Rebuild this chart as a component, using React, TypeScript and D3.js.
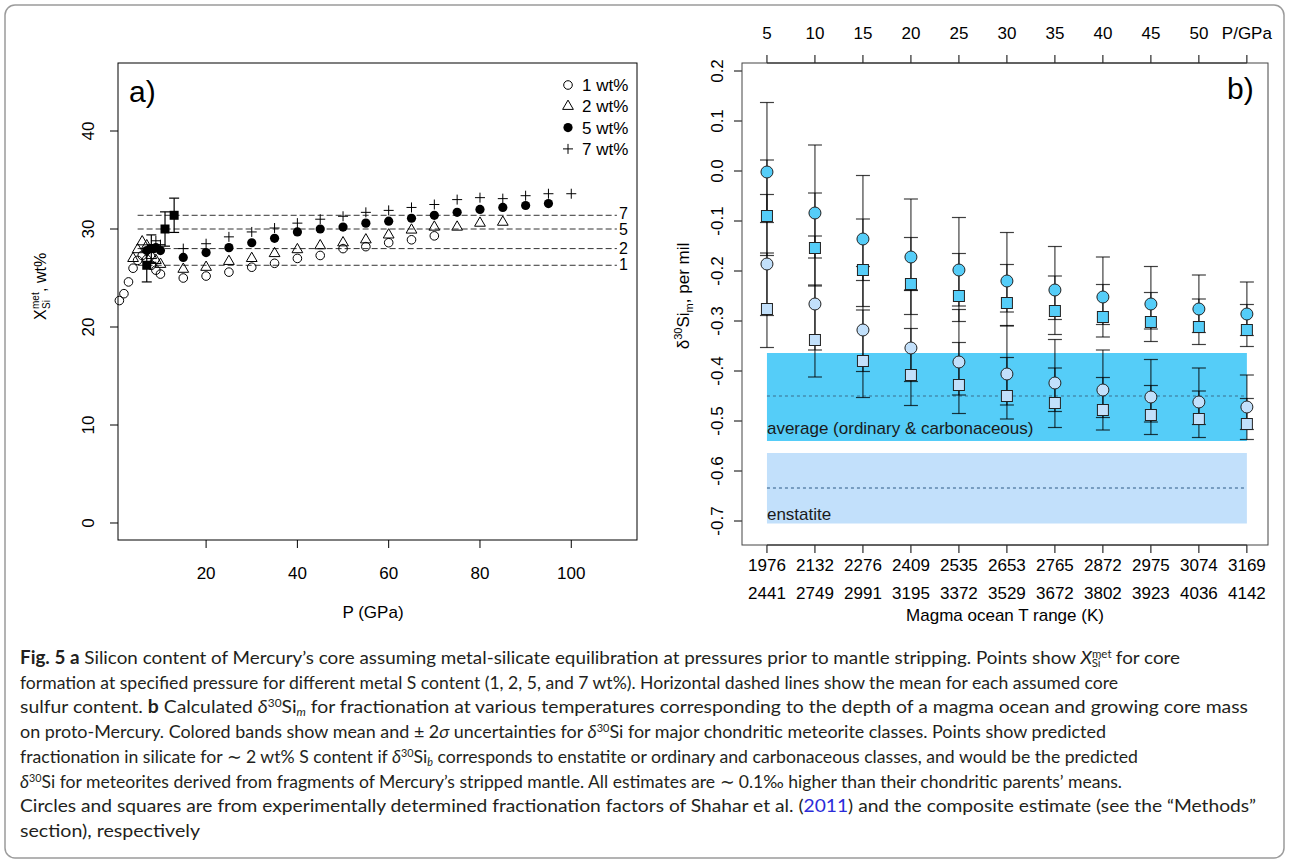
import * as d3 from 'd3';

const FONT = '"Liberation Sans", Arial, Helvetica, sans-serif';
const CAPFONT = 'Lato, "Open Sans", "Noto Sans", sans-serif';

// ---- panel a: X_Si^met (wt%) against pressure (GPa) for each metal S content
const p1wt = [1, 2, 3, 4, 5, 6, 7, 8, 9, 10, 15, 20, 25, 30, 35, 40, 45, 50, 55, 60, 65, 70];
const x1wt = [22.7, 23.4, 24.6, 26.0, 26.8, 27.3, 26.9, 26.3, 25.8, 25.4, 25.0, 25.2, 25.6, 26.1, 26.5, 27.0, 27.3, 28.0, 28.2, 28.6, 28.9, 29.3];
const p2wt = [4, 5, 6, 7, 8, 9, 10, 15, 20, 25, 30, 35, 40, 45, 50, 55, 60, 65, 70, 75, 80, 85];
const x2wt = [27.0, 27.9, 28.7, 28.3, 27.3, 26.8, 26.4, 25.9, 26.1, 26.7, 27.0, 27.5, 27.9, 28.3, 28.6, 28.9, 29.4, 29.9, 30.2, 30.2, 30.6, 30.7];
const p5wt = [7, 8, 9, 10, 15, 20, 25, 30, 35, 40, 45, 50, 55, 60, 65, 70, 75, 80, 85, 90, 95];
const x5wt = [27.8, 28.0, 28.1, 27.8, 27.1, 27.6, 28.1, 28.6, 29.05, 29.7, 30.0, 30.2, 30.6, 30.8, 31.1, 31.4, 31.7, 32.0, 32.2, 32.4, 32.6];
const p7wt = [9, 10, 15, 20, 25, 30, 35, 40, 45, 50, 55, 60, 65, 70, 75, 80, 85, 90, 95, 100];
const x7wt = [28.8, 28.4, 28.0, 28.5, 29.2, 29.7, 30.1, 30.6, 31.0, 31.3, 31.7, 31.9, 32.2, 32.5, 33.0, 33.2, 33.1, 33.4, 33.6, 33.6];

// means (dashed lines) and the mean points with their spread
const meanLabels = ['1', '2', '5', '7'];
const meanX = [26.3, 28.0, 30.0, 31.4];
const meanP = [7, 8, 11, 13];
const meanErr = [1.7, 1.4, 1.75, 1.75];
const meanLineFrom = 5;
const meanLineTo = 110;

const aXTicks = [20, 40, 60, 80, 100];
const aYTicks = [0, 10, 20, 30, 40];
const legendLabels = ['1 wt%', '2 wt%', '5 wt%', '7 wt%'];

// ---- panel b: d30Si of the silicate per temperature step
const pressTop = ['5', '10', '15', '20', '25', '30', '35', '40', '45', '50', 'P/GPa'];
const tLow = ['1976', '2132', '2276', '2409', '2535', '2653', '2765', '2872', '2975', '3074', '3169'];
const tHigh = ['2441', '2749', '2991', '3195', '3372', '3529', '3672', '3802', '3923', '4036', '4142'];
const bYTicks = [0.2, 0.1, 0, -0.1, -0.2, -0.3, -0.4, -0.5, -0.6, -0.7];

const circAvg = [-0.002, -0.084, -0.136, -0.172, -0.198, -0.22, -0.238, -0.252, -0.266, -0.276, -0.286];
const sqAvg = [-0.09, -0.154, -0.198, -0.226, -0.25, -0.264, -0.28, -0.292, -0.302, -0.312, -0.318];
const circEns = [-0.186, -0.266, -0.318, -0.354, -0.382, -0.406, -0.424, -0.438, -0.452, -0.462, -0.472];
const sqEns = [-0.276, -0.338, -0.38, -0.408, -0.428, -0.45, -0.464, -0.478, -0.488, -0.496, -0.506];
const circUp = [0.139, 0.136, 0.127, 0.116, 0.105, 0.097, 0.087, 0.08, 0.075, 0.068, 0.064];
const circDown = [0.167, 0.146, 0.135, 0.115, 0.103, 0.09, 0.089, 0.08, 0.075, 0.071, 0.065];
const sqUp = [0.112, 0.11, 0.102, 0.093, 0.085, 0.077, 0.07, 0.065, 0.059, 0.056, 0.051];
const sqDown = [0.013, 0.02, 0.021, 0.013, 0.02, 0.018, 0.017, 0.015, 0.014, 0.011, 0.011];

const avgBand = [-0.54, -0.364];
const avgMean = -0.45;
const ensBand = [-0.705, -0.564];
const ensMean = -0.634;

const CYAN = '#55cdf8';
const LIGHT = '#c2e0fb';

type Seg = { t: string; b?: boolean; i?: boolean; sup?: boolean; sub?: boolean; c?: string; dx?: number };

const caption: Seg[][] = [
  [
    { t: 'Fig. 5 a', b: true },
    { t: ' Silicon content of Mercury’s core assuming metal-silicate equilibration at pressures prior to mantle stripping. Points show ' },
    { t: 'X', i: true },
    { t: 'met', sup: true },
    { t: 'Si', sub: true, dx: -19 },
    { t: ' for core', dx: 10 },
  ],
  [{ t: 'formation at specified pressure for different metal S content (1, 2, 5, and 7 wt%). Horizontal dashed lines show the mean for each assumed core' }],
  [
    { t: 'sulfur content. ' },
    { t: 'b', b: true },
    { t: ' Calculated ' },
    { t: 'δ', i: true },
    { t: '30', sup: true },
    { t: 'Si' },
    { t: 'm', sub: true, i: true },
    { t: ' for fractionation at various temperatures corresponding to the depth of a magma ocean and growing core mass' },
  ],
  [
    { t: 'on proto-Mercury. Colored bands show mean and ± 2' },
    { t: 'σ', i: true },
    { t: ' uncertainties for ' },
    { t: 'δ', i: true },
    { t: '30', sup: true },
    { t: 'Si for major chondritic meteorite classes. Points show predicted' },
  ],
  [
    { t: 'fractionation in silicate for ∼ 2 wt% S content if ' },
    { t: 'δ', i: true },
    { t: '30', sup: true },
    { t: 'Si' },
    { t: 'b', sub: true, i: true },
    { t: ' corresponds to enstatite or ordinary and carbonaceous classes, and would be the predicted' },
  ],
  [
    { t: 'δ', i: true },
    { t: '30', sup: true },
    { t: 'Si for meteorites derived from fragments of Mercury’s stripped mantle. All estimates are ∼ 0.1‰ higher than their chondritic parents’ means.' },
  ],
  [
    { t: 'Circles and squares are from experimentally determined fractionation factors of Shahar et al. (' },
    { t: '2011', c: '#2b2bd9' },
    { t: ') and the composite estimate (see the “Methods”' },
  ],
  [{ t: 'section), respectively' }],
];
// right end of every caption line in the reference
const captionEnds = [1180, 1118, 1248, 1106, 1138, 1122, 1256, 200];

function CaptionLine({ segs, y, end }: { segs: Seg[]; y: number; end: number }) {
  let off = 0;
  const spans = segs.map((s, k) => {
    const target = s.sup ? -6 : s.sub ? 3 : 0;
    const dy = target - off;
    off = target;
    return (
      <tspan
        key={k}
        dy={dy}
        dx={s.dx}
        fontWeight={s.b ? 700 : undefined}
        fontStyle={s.i ? 'italic' : undefined}
        fontSize={s.sup || s.sub ? 11 : undefined}
        fill={s.c}
      >
        {s.t}
      </tspan>
    );
  });
  return (
    <text
      x={20}
      y={y}
      fontFamily={CAPFONT}
      fontSize={18}
      fill="#231f20"
      textLength={end - 20}
      lengthAdjust="spacingAndGlyphs"
      style={{ whiteSpace: 'pre' }}
    >
      {spans}
    </text>
  );
}

export default function App() {
  const ax = d3.scaleLinear().domain([0.7, 114.4]).range([118, 637]);
  const ay = d3.scaleLinear().domain([-1.735, 46.94]).range([540, 63]);
  const bx = d3.scaleLinear().domain([-0.52, 10.44]).range([742, 1268]);
  const by = d3.scaleLinear().domain([-0.748, 0.216]).range([545, 63]);
  const tri = d3.symbol().type(d3.symbolTriangle).size(50)() as string;
  const idx = d3.range(tLow.length);

  const plus = (x: number, y: number) => `M${x - 5},${y}H${x + 5}M${x},${y - 5}V${y + 5}`;

  const errBar = (x: number, y0: number, y1: number, half: number, key: string, stroke = '#000', op = 1) => (
    <g key={key} stroke={stroke} strokeOpacity={op} strokeWidth={1.2}>
      <line x1={x} x2={x} y1={y0} y2={y1} />
      <line x1={x - half} x2={x + half} y1={y0} y2={y0} />
      <line x1={x - half} x2={x + half} y1={y1} y2={y1} />
    </g>
  );

  return (
    <svg width={1289} height={862} fontFamily={FONT} style={{ position: 'absolute', left: 0, top: 0, background: '#fff' }}>
      <rect x={5} y={5} width={1279} height={853} rx={10} fill="#fff" stroke="#9b9b9b" strokeWidth={1.5} />

      {/* ---------- panel a ---------- */}
      <g fontSize={17} fill="#000">
        {aYTicks.map((v) => (
          <g key={'ay' + v}>
            <line x1={110} x2={118} y1={ay(v)} y2={ay(v)} stroke="#000" />
            <text transform={`translate(94,${ay(v)}) rotate(-90)`} textAnchor="middle">{v}</text>
          </g>
        ))}
        {aXTicks.map((v) => (
          <g key={'ax' + v}>
            <line x1={ax(v)} x2={ax(v)} y1={540} y2={548} stroke="#000" />
            <text x={ax(v)} y={579} textAnchor="middle">{v}</text>
          </g>
        ))}
        <text x={373} y={618} textAnchor="middle">P (GPa)</text>
        <g transform="translate(46,292) rotate(-90)">
          <text x={-28} y={0} fontSize={16}>X</text>
          <text x={-17} y={-7} fontSize={10}>met</text>
          <text x={-17} y={4} fontSize={10}>Si</text>
          <text x={0} y={0} fontSize={16}>,</text>
          <text x={9} y={0} fontSize={16}>wt%</text>
        </g>
        <text x={129} y={102} fontSize={30}>a)</text>

        {meanX.map((m, i) => (
          <line key={'ml' + i} x1={ax(meanLineFrom)} x2={ax(meanLineTo)} y1={ay(m)} y2={ay(m)} stroke="#333" strokeDasharray="6,3" />
        ))}
        {meanX.map((m, i) => (
          <text key={'mt' + i} x={619} y={ay(m) + 5} fontSize={16} dy={i === 3 ? -1 : i === 2 ? 1 : 0}>{meanLabels[i]}</text>
        ))}

        {p1wt.map((p, i) => (
          <circle key={'c1' + i} cx={ax(p)} cy={ay(x1wt[i])} r={4.3} fill="none" stroke="#000" />
        ))}
        {p2wt.map((p, i) => (
          <path key={'t2' + i} d={tri} transform={`translate(${ax(p)},${ay(x2wt[i])})`} fill="none" stroke="#000" />
        ))}
        {p5wt.map((p, i) => (
          <circle key={'c5' + i} cx={ax(p)} cy={ay(x5wt[i])} r={4.6} fill="#000" />
        ))}
        {p7wt.map((p, i) => (
          <path key={'p7' + i} d={plus(ax(p), ay(x7wt[i]))} stroke="#000" fill="none" />
        ))}
        {meanX.map((m, i) => (
          <g key={'mp' + i}>
            {errBar(ax(meanP[i]), ay(m + meanErr[i]), ay(m - meanErr[i]), 5, 'me' + i)}
            <rect x={ax(meanP[i]) - 4.5} y={ay(m) - 4.5} width={9} height={9} fill="#000" />
          </g>
        ))}

        {/* legend */}
        {legendLabels.map((l, i) => {
          const y = 85 + i * 21.3;
          const x = 568;
          return (
            <g key={'lg' + i}>
              {i === 0 && <circle cx={x} cy={y} r={4.3} fill="none" stroke="#000" />}
              {i === 1 && <path d={tri} transform={`translate(${x},${y})`} fill="none" stroke="#000" />}
              {i === 2 && <circle cx={x} cy={y} r={4.6} fill="#000" />}
              {i === 3 && <path d={plus(x, y)} stroke="#000" />}
              <text x={582} y={y + 6}>{l}</text>
            </g>
          );
        })}
        <rect x={118} y={63} width={519} height={477} fill="none" stroke="#000" />
      </g>

      {/* ---------- panel b ---------- */}
      <g fontSize={17} fill="#000">
        <rect x={bx(0)} y={by(avgBand[1])} width={bx(10) - bx(0)} height={by(avgBand[0]) - by(avgBand[1])} fill={CYAN} />
        <rect x={bx(0)} y={by(ensBand[1])} width={bx(10) - bx(0)} height={by(ensBand[0]) - by(ensBand[1])} fill={LIGHT} />
        <line x1={bx(0)} x2={bx(10)} y1={by(avgMean)} y2={by(avgMean)} stroke="#3b6f8e" strokeDasharray="3,3" />
        <line x1={bx(0)} x2={bx(10)} y1={by(ensMean)} y2={by(ensMean)} stroke="#2d5a86" strokeDasharray="3,3" />
        <text x={bx(0)} y={434} fill="#1a1a1a">average (ordinary &amp; carbonaceous)</text>
        <text x={bx(0)} y={520} fill="#1a1a1a">enstatite</text>

        {idx.map((i) => (
          <g key={'eb' + i}>
            {errBar(bx(i), by(circAvg[i] + circUp[i]), by(circAvg[i] - circDown[i]), 7, 'ca' + i, '#000', 0.75)}
            {errBar(bx(i), by(sqAvg[i] + sqUp[i]), by(sqAvg[i] - sqDown[i]), 7, 'sa' + i, '#000', 0.75)}
            {errBar(bx(i), by(circEns[i] + circUp[i]), by(circEns[i] - circDown[i]), 7, 'ce' + i, '#000', 0.75)}
            {errBar(bx(i), by(sqEns[i] + sqUp[i]), by(sqEns[i] - sqDown[i]), 7, 'se' + i, '#000', 0.75)}
          </g>
        ))}
        {idx.map((i) => (
          <g key={'pt' + i} stroke="#222" strokeWidth={1}>
            <circle cx={bx(i)} cy={by(circAvg[i])} r={6} fill={CYAN} />
            <rect x={bx(i) - 5.5} y={by(sqAvg[i]) - 5.5} width={11} height={11} fill={CYAN} />
            <circle cx={bx(i)} cy={by(circEns[i])} r={6} fill={LIGHT} />
            <rect x={bx(i) - 5.5} y={by(sqEns[i]) - 5.5} width={11} height={11} fill={LIGHT} />
          </g>
        ))}

        {bYTicks.map((v) => (
          <g key={'by' + v}>
            <line x1={734} x2={742} y1={by(v)} y2={by(v)} stroke="#000" />
            <text transform={`translate(723,${by(v)}) rotate(-90)`} textAnchor="middle">{v.toFixed(1)}</text>
          </g>
        ))}
        {idx.map((i) => (
          <g key={'bt' + i}>
            <line x1={bx(i)} x2={bx(i)} y1={55} y2={63} stroke="#000" />
            <text x={bx(i)} y={39} textAnchor="middle">{pressTop[i]}</text>
            <line x1={bx(i)} x2={bx(i)} y1={545} y2={553} stroke="#000" />
            <text x={bx(i)} y={571} textAnchor="middle">{tLow[i]}</text>
            <text x={bx(i)} y={599} textAnchor="middle">{tHigh[i]}</text>
          </g>
        ))}
        <line x1={bx(0)} x2={bx(10)} y1={63} y2={63} stroke="#000" />
        <line x1={bx(0)} x2={bx(10)} y1={545} y2={545} stroke="#000" />
        <text x={1005} y={621} textAnchor="middle">Magma ocean T range (K)</text>
        <g transform="translate(689,296) rotate(-90)" textAnchor="middle">
          <text>
            <tspan fontStyle="normal">δ</tspan>
            <tspan dy={-7} fontSize={11}>30</tspan>
            <tspan dy={7}>Si</tspan>
            <tspan dy={4} fontSize={11}>m</tspan>
            <tspan dy={-4}>, per mil</tspan>
          </text>
        </g>
        <text x={1227} y={99} fontSize={30}>b)</text>
        <rect x={742} y={63} width={526} height={482} fill="none" stroke="#444" />
      </g>

      {/* ---------- caption ---------- */}
      {caption.map((segs, i) => (
        <CaptionLine key={'cap' + i} segs={segs} y={664 + i * 24.7} end={captionEnds[i]} />
      ))}
    </svg>
  );
}
